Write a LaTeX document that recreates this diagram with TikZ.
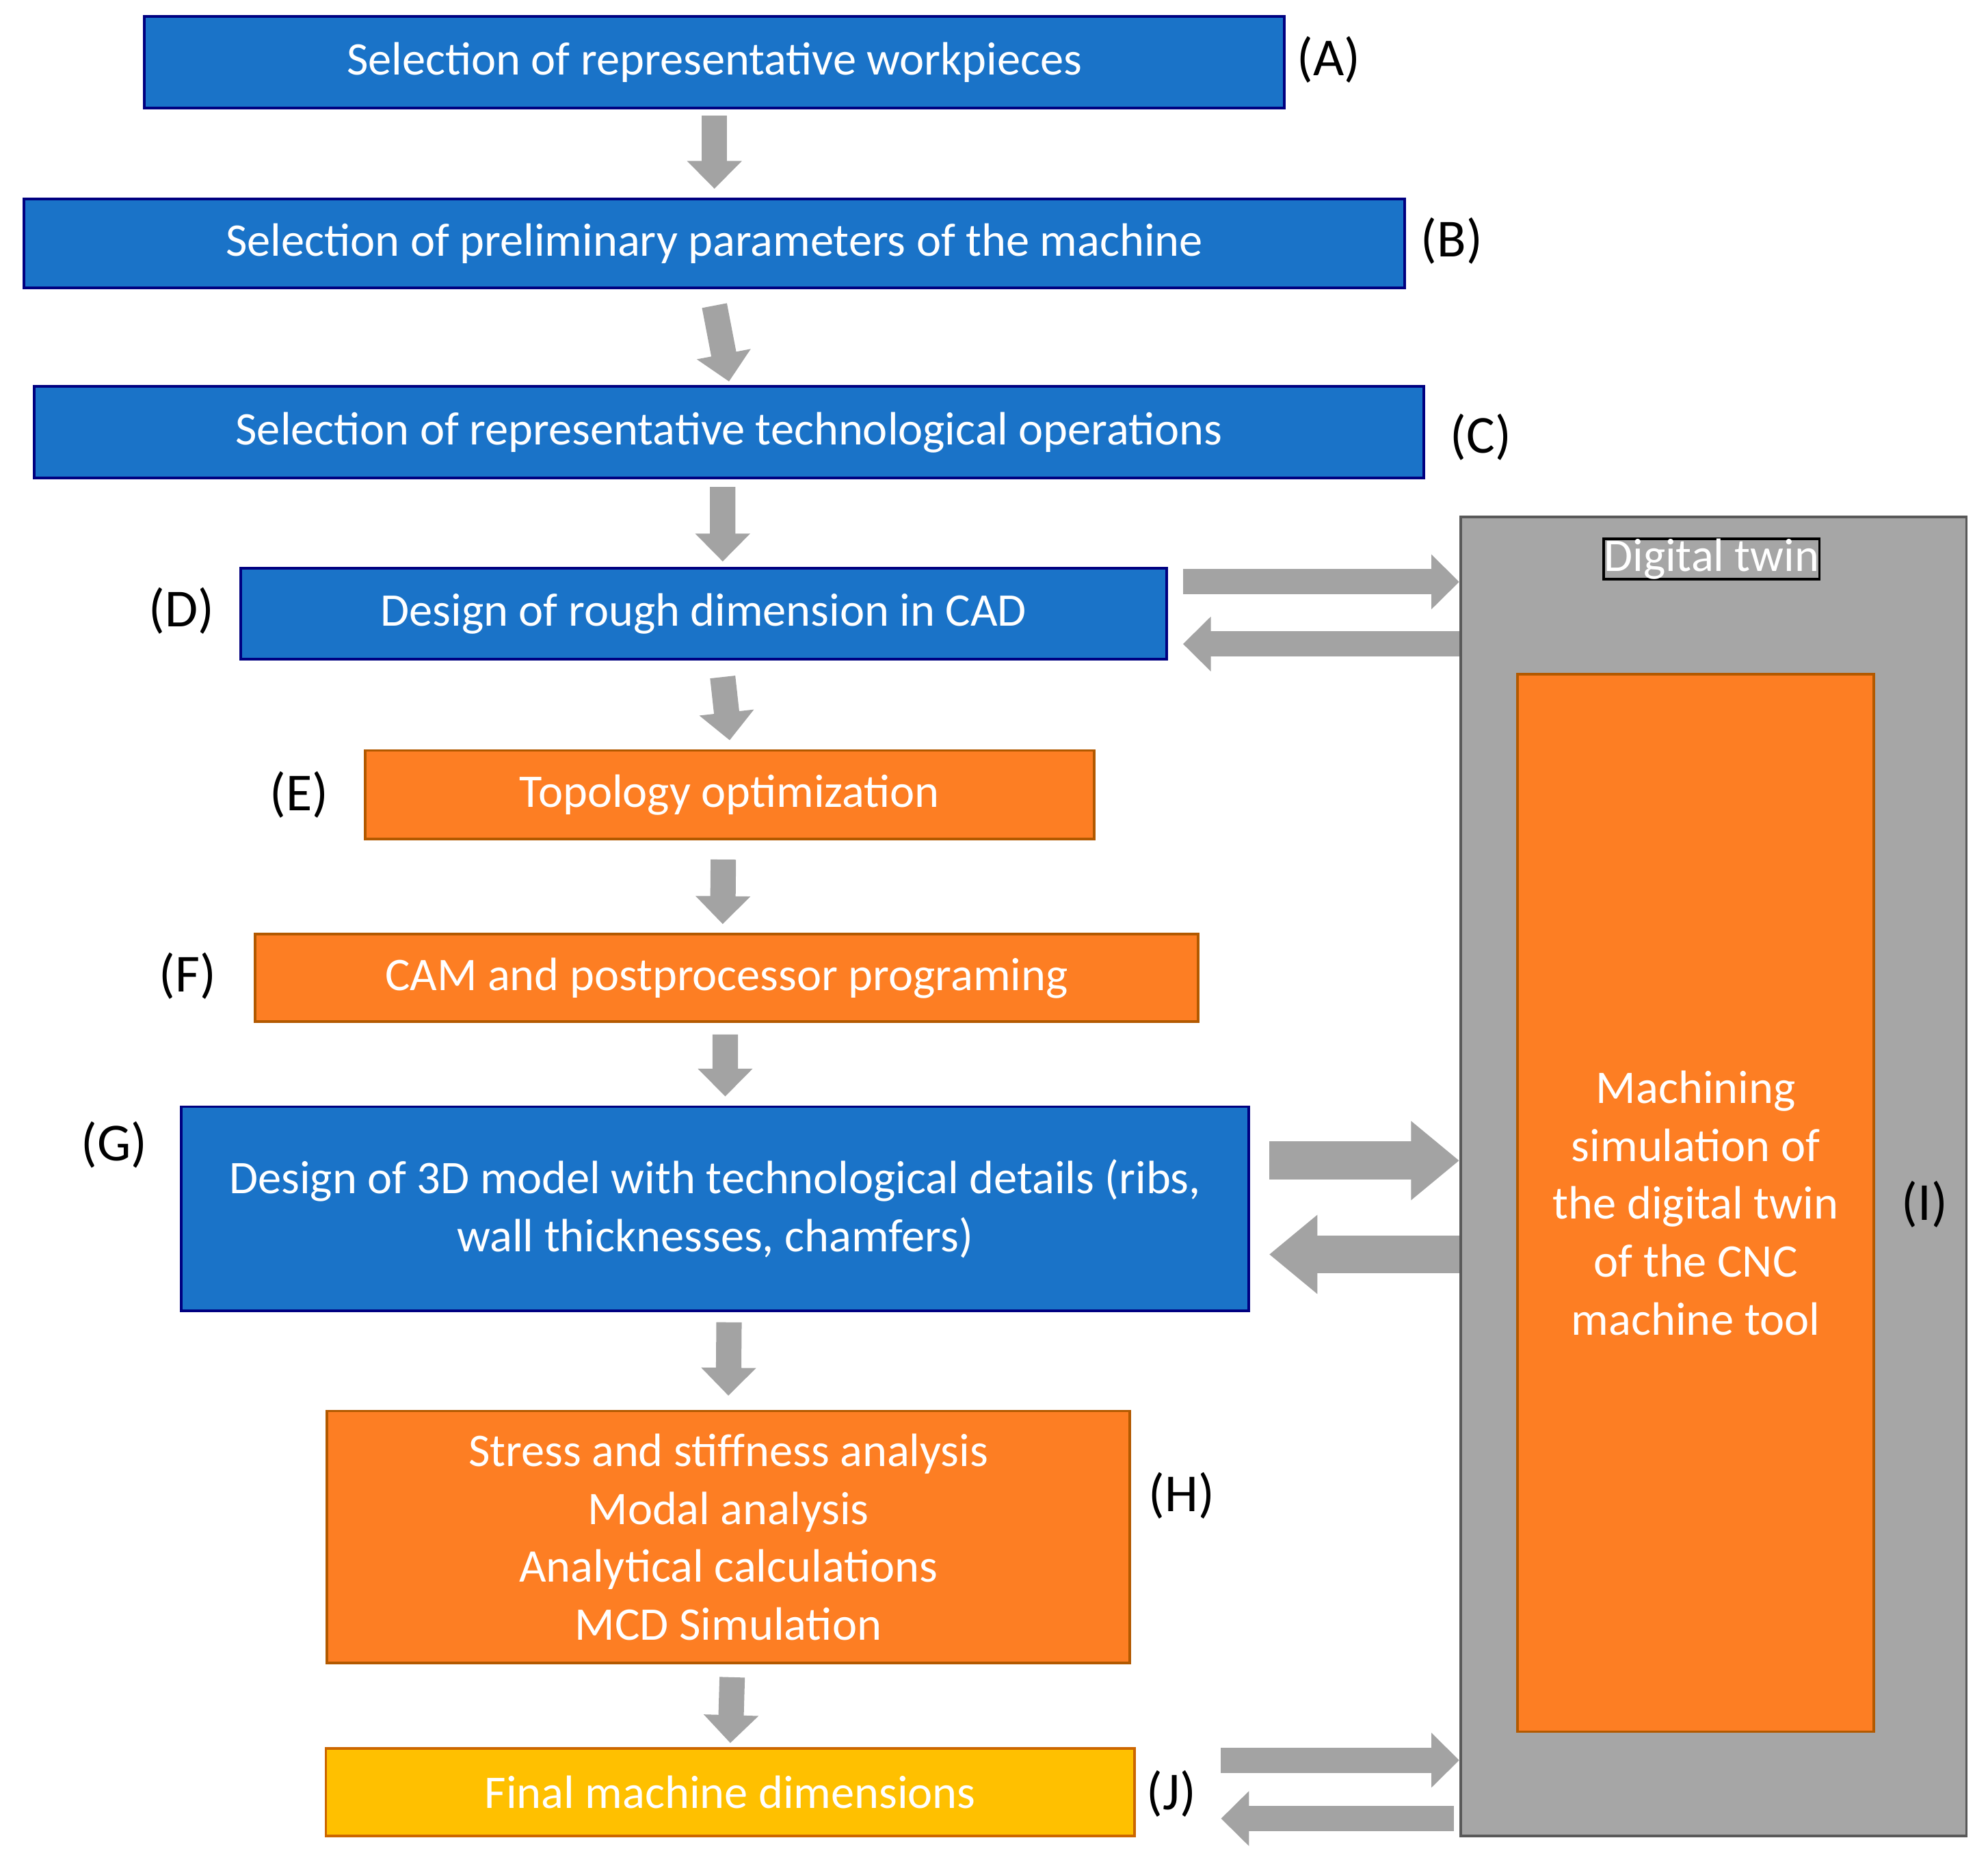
\documentclass[tikz,border=0pt]{standalone}
\usepackage{fontspec}
\setmainfont{Carlito}
\usetikzlibrary{arrows.meta}
\definecolor{boxblue}{HTML}{1A73C8}
\definecolor{boxorange}{HTML}{FD7E23}
\definecolor{boxyellow}{HTML}{FFC000}
\definecolor{twingray}{HTML}{A6A6A6}
\definecolor{arrowgray}{HTML}{A3A3A3}
\tikzset{
  box/.style={draw, line width=0.6pt, text=white, align=center, inner sep=0pt,
    font=\fontsize{10.5}{13}\selectfont},
  blue box/.style={box, fill=boxblue, draw=blue!50!black},
  orange box/.style={box, fill=boxorange, draw=orange!70!black},
  yellow box/.style={box, fill=boxyellow, draw=orange!80!black},
  tag/.style={font=\fontsize{12}{14}\selectfont},
  fat/.style={draw=arrowgray, line width=0.2cm, -{Triangle[width=0.42cm,length=0.22cm]}},
}
\begin{document}
\begin{tikzpicture}
\useasboundingbox (0,0) rectangle (15.68,-14.70);
% process boxes
\node[blue box, minimum width=8.99cm, minimum height=0.72cm] (A) at (5.635,-0.49) {Selection of representative workpieces};
\node[blue box, minimum width=10.89cm, minimum height=0.70cm] (B) at (5.635,-1.92) {Selection of preliminary parameters of the machine};
\node[blue box, minimum width=10.96cm, minimum height=0.72cm] (C) at (5.75,-3.41) {Selection of representative technological operations};
\node[blue box, minimum width=7.30cm, minimum height=0.72cm] (D) at (5.55,-4.84) {Design of rough dimension in CAD};
\node[orange box, minimum width=5.75cm, minimum height=0.70cm] (E) at (5.755,-6.27) {Topology optimization};
\node[orange box, minimum width=7.44cm, minimum height=0.69cm] (F) at (5.73,-7.715) {CAM and postprocessor programing};
\node[blue box, minimum width=8.42cm, minimum height=1.61cm] (G) at (5.64,-9.535) {Design of 3D model with technological details (ribs,\\wall thicknesses, chamfers)};
\node[orange box, minimum width=6.33cm, minimum height=1.99cm] (H) at (5.745,-12.125) {Stress and stiffness analysis\\Modal analysis\\Analytical calculations\\MCD Simulation};
\node[yellow box, minimum width=6.38cm, minimum height=0.69cm] (J) at (5.76,-14.135) {Final machine dimensions};
% digital twin
\node[box, fill=twingray, draw=gray!70!black, minimum width=3.99cm, minimum height=10.40cm] (twin) at (13.515,-9.28) {};
\node[box] (twintitle) at (13.50,-4.41) {Digital twin};
\node[orange box, minimum width=2.81cm, minimum height=8.34cm] (sim) at (13.375,-9.49) {Machining\\simulation of\\the digital twin\\of the CNC\\machine tool};
% labels
\node[tag] (tA) at (10.48,-0.47) {(A)};
\node[tag] (tB) at (11.45,-1.90) {(B)};
\node[tag] (tC) at (11.68,-3.45) {(C)};
\node[tag] (tD) at (1.43,-4.82) {(D)};
\node[tag] (tE) at (2.36,-6.27) {(E)};
\node[tag] (tF) at (1.48,-7.70) {(F)};
\node[tag] (tG) at (0.90,-9.03) {(G)};
\node[tag] (tH) at (9.32,-11.80) {(H)};
\node[tag] (tJ) at (9.24,-14.15) {(J)};
\node[tag] (tI) at (15.18,-9.50) {(I)};
% flow arrows
\draw[fat] ([yshift=-0.05cm]A.south) -- ([yshift=0.07cm]B.north);
\draw[fat] ([yshift=-0.13cm]B.south) -- ([yshift=0.03cm]C.north);
\draw[fat] ([xshift=-0.05cm,yshift=-0.06cm]C.south) -- ([xshift=0.15cm,yshift=0.04cm]D.north);
\draw[fat] ([xshift=0.15cm,yshift=-0.13cm]D.south) -- ([yshift=0.07cm]E.north);
\draw[fat] ([xshift=-0.05cm,yshift=-0.15cm]E.south) -- ([xshift=-0.03cm,yshift=0.07cm]F.north);
\draw[fat] ([xshift=-0.01cm,yshift=-0.09cm]F.south) -- ([xshift=0.08cm,yshift=0.07cm]G.north);
\draw[fat] ([xshift=0.11cm,yshift=-0.08cm]G.south) -- ([xshift=0.0cm,yshift=0.11cm]H.north);
\draw[fat] ([xshift=0.03cm,yshift=-0.10cm]H.south) -- ([yshift=0.03cm]J.north);
% twin exchange arrows
\draw[fat] ([xshift=0.12cm,yshift=0.25cm]D.east) -- ([yshift=0.25cm]D.east -| twin.west);
\draw[fat] ([yshift=-0.24cm]D.east -| twin.west) -- ([xshift=0.12cm,yshift=-0.24cm]D.east);
\draw[fat, line width=0.3cm, -{Triangle[width=0.6cm,length=0.38cm]}] ([xshift=0.15cm,yshift=0.38cm]G.east) -- ([yshift=0.38cm]G.east -| twin.west);
\draw[fat, line width=0.3cm, -{Triangle[width=0.6cm,length=0.38cm]}] ([yshift=-0.36cm]G.east -| twin.west) -- ([xshift=0.15cm,yshift=-0.36cm]G.east);
\draw[fat] ([xshift=0.67cm,yshift=0.25cm]J.east) -- ([yshift=0.25cm]J.east -| twin.west);
\draw[fat] ([xshift=-0.04cm,yshift=-0.21cm]J.east -| twin.west) -- ([xshift=0.67cm,yshift=-0.21cm]J.east);
\end{tikzpicture}
\end{document}
